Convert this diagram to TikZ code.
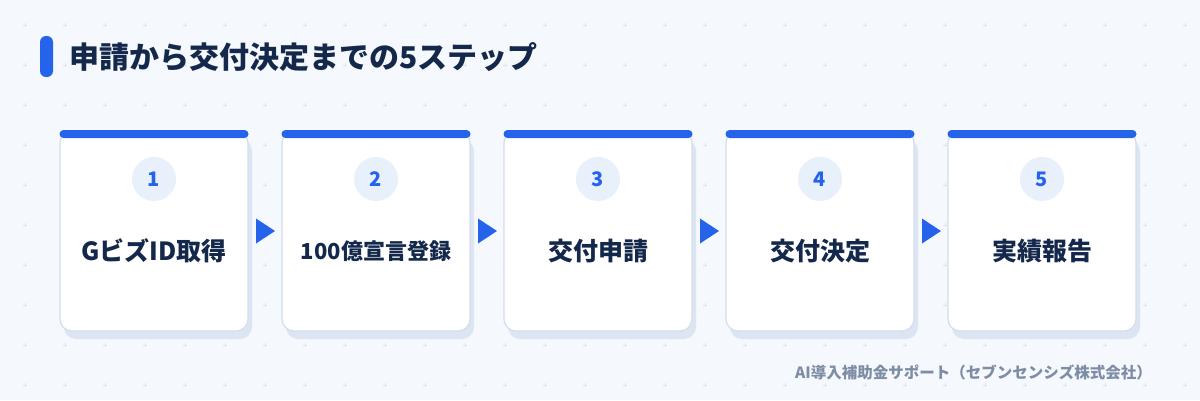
\documentclass[tikz,border=0pt]{standalone}
\usepackage{fontspec}
\setmainfont{Noto Sans CJK JP}
\usetikzlibrary{calc}
\definecolor{bgc}{HTML}{F5F8FC}
\definecolor{gridc}{HTML}{DFE6F0}
\definecolor{bluec}{HTML}{2563EB}
\definecolor{navyc}{HTML}{14284B}
\definecolor{borderc}{HTML}{D3DEEC}
\definecolor{shadowc}{HTML}{DCE5F1}
\definecolor{circc}{HTML}{E8F0FC}
\definecolor{footc}{HTML}{7E8DA6}
\tikzset{
  card/.style={rectangle, rounded corners=12pt, fill=white, draw=borderc, line width=1.2pt,
    minimum width=188pt, minimum height=200pt, inner sep=0pt,
    preaction={fill=shadowc, draw=none, transform canvas={xshift=4pt, yshift=-8pt}}},
  topbar/.style={rectangle, rounded corners=4pt, fill=bluec, minimum width=189pt, minimum height=8pt, inner sep=0pt},
  numc/.style={circle, fill=circc, minimum size=44pt, inner sep=0pt, text=bluec,
    font=\fontsize{20pt}{20pt}\selectfont\bfseries},
  lbl/.style={text=navyc, inner sep=0pt, font=\fontsize{25pt}{25pt}\selectfont\bfseries},
  lblsmall/.style={text=navyc, inner sep=0pt, font=\fontsize{22pt}{22pt}\selectfont\bfseries},
  steparrow/.style={fill=bluec},
  gridmark/.style={draw=gridc, line width=0.8pt}
}
\begin{document}
\begin{tikzpicture}[x=1pt, y=-1pt]
\fill[bgc] (0,0) rectangle (1200,400);
\useasboundingbox (0,0) rectangle (1200,400);
% background grid of small plus marks
\foreach \gx in {25,65,...,1185} {
  \foreach \gy in {25,65,...,385} {
    \draw[gridmark] (\gx-2,\gy) -- (\gx+2,\gy) (\gx,\gy-2) -- (\gx,\gy+2);
  }
}
% title
\fill[bluec, rounded corners=6pt] (40,36) rectangle (53,77);
\node[anchor=west, text=navyc, inner sep=0pt, font=\fontsize{30pt}{30pt}\selectfont\bfseries] (title) at (69,57) {申請から交付決定までの5ステップ};
% cards
\foreach \i/\lab/\sty in {1/GビズID取得/lbl, 2/100億宣言登録/lblsmall, 3/交付申請/lbl, 4/交付決定/lbl, 5/実績報告/lbl} {
  \pgfmathsetmacro{\cx}{154+222*(\i-1)}
  \node[card] (c\i) at (\cx,231) {};
  \node[topbar] (b\i) at (\cx,134) {};
  \node[numc] (n\i) at (\cx,179) {\i};
  \node[\sty] (l\i) at (\cx,251) {\lab};
}
% arrows between cards
\foreach \i/\j in {1/2, 2/3, 3/4, 4/5} {
  \coordinate (m\i) at ($(c\i.east)!0.5!(c\j.west)$);
  \fill[steparrow] ($(m\i)+(-9,-12.5)$) -- ($(m\i)+(10,0)$) -- ($(m\i)+(-9,12.5)$) -- cycle;
}
% footer
\node[anchor=east, text=footc, inner sep=0pt, font=\fontsize{15.5pt}{15.5pt}\selectfont\bfseries] (foot) at (1152,372) {AI導入補助金サポート（セブンセンシズ株式会社）};
\end{tikzpicture}
\end{document}
